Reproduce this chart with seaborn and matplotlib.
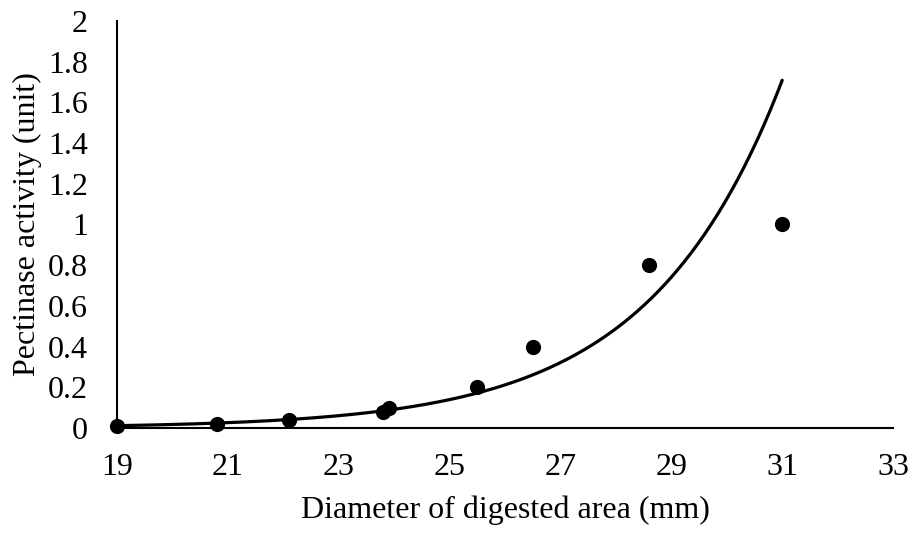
import numpy as np
import pandas as pd
import matplotlib
matplotlib.use("Agg")
import matplotlib.pyplot as plt
import seaborn as sns

diameter_mm = [19.0, 20.8, 22.1, 23.8, 23.9, 25.5, 26.5, 28.6, 31.0]
pectinase_unit = [0.01, 0.02, 0.04, 0.08, 0.10, 0.20, 0.40, 0.80, 1.00]
x_ticks = [19, 21, 23, 25, 27, 29, 31, 33]
y_ticks = [0, 0.2, 0.4, 0.6, 0.8, 1, 1.2, 1.4, 1.6, 1.8, 2]
y_tick_labels = ["0", "0.2", "0.4", "0.6", "0.8", "1", "1.2", "1.4", "1.6", "1.8", "2"]

sns.set_theme(style="white")
plt.rcParams['font.family'] = ['Liberation Serif', 'DejaVu Serif']

df = pd.DataFrame({"x": diameter_mm, "y": pectinase_unit})

fig = plt.figure(figsize=(9.15, 5.33), dpi=100)
ax = fig.add_axes([0.128, 0.197, 0.848, 0.764])

# exponential trendline (least squares on log y, as a spreadsheet trendline)
b, ln_a = np.polyfit(df["x"], np.log(df["y"]), 1)
xs = np.linspace(min(diameter_mm), max(diameter_mm), 300)
ax.plot(xs, np.exp(ln_a) * np.exp(b * xs), color="black", lw=2.3, zorder=2)

sns.scatterplot(data=df, x="x", y="y", ax=ax, color="black", s=120,
                edgecolor="black", linewidth=0, zorder=3, clip_on=False)

ax.set_xlim(19, 33)
ax.set_ylim(0, 2)
ax.set_xticks(x_ticks)
ax.set_xticklabels([str(t) for t in x_ticks])
ax.set_yticks(y_ticks)
ax.set_yticklabels(y_tick_labels)
ax.tick_params(axis="both", length=0, labelsize=23, colors="black")
ax.tick_params(axis="x", pad=18)
ax.tick_params(axis="y", pad=21)

for side in ["top", "right"]:
    ax.spines[side].set_visible(False)
for side in ["left", "bottom"]:
    ax.spines[side].set_color("black")
    ax.spines[side].set_linewidth(1.5)

ax.set_xlabel("Diameter of digested area (mm)", fontsize=23, color="black", labelpad=10)
ax.set_ylabel("Pectinase activity (unit)", fontsize=23, color="black", labelpad=4)

fig.savefig("out.png", dpi=100, facecolor="white")
